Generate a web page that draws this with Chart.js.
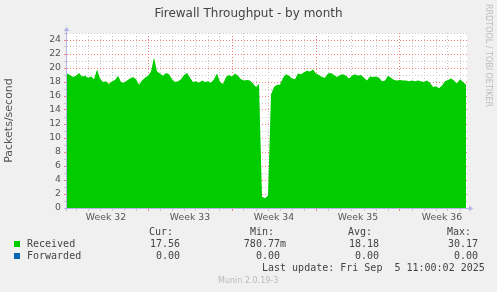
<!DOCTYPE html>
<html>
<head>
<meta charset="utf-8">
<script src="https://cdn.jsdelivr.net/npm/chart.js@4/dist/chart.umd.min.js"></script>
<style>
  html, body { margin: 0; padding: 0; background: #F0F0F0; }
  #wrap { position: relative; width: 497px; height: 292px; overflow: hidden; background: #F0F0F0; }
  canvas { position: absolute; left: 0; top: 0; }
  .t { position: absolute; white-space: pre; color: #444; }
  .mono { font-family: "DejaVu Sans Mono", monospace; font-size: 10px; line-height: 12px; }
  .title { font-family: "DejaVu Sans", sans-serif; font-size: 12px; color: #444; left: 0; width: 497px; text-align: center; top: 6px; }
  .sw { position: absolute; width: 6px; height: 6px; }
  .rrd { font-family: "DejaVu Sans", sans-serif; font-size: 8px; color: #bdbdbd; transform-origin: 0 0; transform: rotate(90deg); left: 493px; top: 4px; }
  .munin { font-family: "DejaVu Sans", sans-serif; font-size: 8px; color: #bbb; left: 218px; top: 276px; }
  .r { text-align: right; }
</style>
</head>
<body>
<div id="wrap">
  <canvas id="c" width="497" height="292"></canvas>
  <div class="t title">Firewall Throughput - by month</div>
  <div class="t rrd">RRDTOOL / TOBI OETIKER</div>

  <div class="t mono" style="left:149px; top:226px;">Cur:</div>
  <div class="t mono" style="left:250px; top:226px;">Min:</div>
  <div class="t mono" style="left:348px; top:226px;">Avg:</div>
  <div class="t mono" style="left:447px; top:226px;">Max:</div>

  <div class="sw" style="left:14px; top:241px; background:#00CC00;"></div>
  <div class="t mono" style="left:27px; top:238px;">Received</div>
  <div class="t mono r" style="left:100px; width:80px; top:238px;">17.56</div>
  <div class="t mono r" style="left:200px; width:86px; top:238px;">780.77m</div>
  <div class="t mono r" style="left:300px; width:79px; top:238px;">18.18</div>
  <div class="t mono r" style="left:400px; width:78px; top:238px;">30.17</div>

  <div class="sw" style="left:14px; top:253px; background:#0066B3;"></div>
  <div class="t mono" style="left:27px; top:250px;">Forwarded</div>
  <div class="t mono r" style="left:100px; width:80px; top:250px;">0.00</div>
  <div class="t mono r" style="left:200px; width:80px; top:250px;">0.00</div>
  <div class="t mono r" style="left:300px; width:79px; top:250px;">0.00</div>
  <div class="t mono r" style="left:400px; width:78px; top:250px;">0.00</div>

  <div class="t mono" style="left:262px; top:262px;">Last update: Fri Sep  5 11:00:02 2025</div>
  <div class="t munin">Munin 2.0.19-3</div>
</div>
<script>
// ---- data (one sample every 6 hours, days counted from the left edge of the graph) ----
const sampleDays = 0.25;
const received = [
  19.2, 19.0, 18.7, 18.9, 19.3, 18.8, 18.9, 18.6, 18.8, 18.4,
  19.8, 18.5, 18.0, 18.1, 17.7, 18.1, 18.3, 18.9, 18.0, 17.9,
  18.2, 18.5, 18.7, 18.4, 17.6, 18.2, 18.6, 18.9, 19.5, 21.5,
  19.5, 19.2, 18.9, 19.3, 19.1, 18.4, 18.0, 18.1, 18.4, 19.0,
  19.3, 18.6, 18.0, 18.1, 17.9, 18.2, 18.0, 18.1, 17.9, 18.4,
  19.2, 18.0, 17.7, 18.7, 19.0, 18.8, 19.2, 18.9, 18.4, 18.2,
  18.3, 18.2, 17.8, 17.3, 17.7, 1.6, 1.4, 1.8, 16.2, 17.3,
  17.6, 17.6, 18.6, 19.1, 18.9, 18.5, 18.4, 19.2, 19.1, 19.4,
  19.6, 19.5, 19.8, 19.2, 19.0, 18.7, 18.6, 19.2, 19.3, 19.0,
  18.7, 19.0, 19.1, 18.9, 18.5, 18.9, 19.1, 18.9, 19.0, 18.6,
  18.2, 18.8, 18.7, 18.8, 18.6, 18.1, 18.2, 18.9, 18.6, 18.3,
  18.2, 18.3, 18.2, 18.2, 18.1, 18.2, 18.1, 18.2, 18.1, 18.0,
  18.2, 17.9, 17.3, 17.4, 17.1, 17.5, 18.1, 18.3, 18.5, 18.2,
  17.8, 18.4, 18.0, 17.6
];
const forwarded = [
  0, 0, 0, 0, 0, 0, 0, 0, 0, 0, 0, 0, 0, 0, 0, 0, 0, 0, 0, 0,
  0, 0, 0, 0, 0, 0, 0, 0, 0, 0, 0, 0, 0, 0, 0, 0, 0, 0, 0, 0,
  0, 0, 0, 0, 0, 0, 0, 0, 0, 0, 0, 0, 0, 0, 0, 0, 0, 0, 0, 0,
  0, 0, 0, 0, 0, 0, 0, 0, 0, 0, 0, 0, 0, 0, 0, 0, 0, 0, 0, 0,
  0, 0, 0, 0, 0, 0, 0, 0, 0, 0, 0, 0, 0, 0, 0, 0, 0, 0, 0, 0,
  0, 0, 0, 0, 0, 0, 0, 0, 0, 0, 0, 0, 0, 0, 0, 0, 0, 0, 0, 0,
  0, 0, 0, 0, 0, 0, 0, 0, 0, 0, 0, 0, 0, 0
];
const weekLabels = ["Week 32", "Week 33", "Week 34", "Week 35", "Week 36"];
const weekStarts = [6.75, 13.75, 20.75, 27.75];       // week boundaries (days)
const weekCenters = [3.25, 10.25, 17.25, 24.25, 31.25];
const spanDays = 400 / 12;
const yMax = 25;

const toPts = arr => arr.map((v, i) => ({ x: i * sampleDays, y: v }));

const GRID_MINOR = '#c8c8c8';
const GRID_MAJOR = '#f08080';
const AXIS = '#b4b4e6';

function isDayLine(v) { const f = v - Math.floor(v); return Math.abs(f - 0.75) < 1e-6; }
function isWeekLine(v) { return weekStarts.some(w => Math.abs(w - v) < 1e-6); }

const axisPlugin = {
  id: 'axisArrows',
  afterDraw(chart) {
    const { ctx, chartArea: a } = chart;
    ctx.save();
    ctx.strokeStyle = AXIS; ctx.fillStyle = AXIS; ctx.lineWidth = 1;
    const yb = a.bottom + 0.5;
    ctx.beginPath(); ctx.moveTo(a.left - 3, yb); ctx.lineTo(a.right + 3, yb); ctx.stroke();
    ctx.beginPath(); ctx.moveTo(a.right + 6, yb); ctx.lineTo(a.right + 2, yb - 3); ctx.lineTo(a.right + 2, yb + 3); ctx.closePath(); ctx.fill();
    const xl = a.left - 0.5;
    ctx.beginPath(); ctx.moveTo(xl, a.bottom + 3); ctx.lineTo(xl, a.top - 2); ctx.stroke();
    ctx.beginPath(); ctx.moveTo(xl, a.top - 6); ctx.lineTo(xl - 3, a.top - 2); ctx.lineTo(xl + 3, a.top - 2); ctx.closePath(); ctx.fill();
    ctx.restore();
  }
};

const bgPlugin = {
  id: 'plotBg',
  beforeDraw(chart) {
    const { ctx, chartArea: a } = chart;
    ctx.save(); ctx.fillStyle = '#ffffff';
    ctx.fillRect(a.left, a.top, a.right - a.left, a.bottom - a.top);
    ctx.restore();
  }
};

new Chart(document.getElementById('c'), {
  type: 'line',
  data: {
    datasets: [
      { label: 'Received', data: toPts(received), borderWidth: 0, backgroundColor: '#00CC00',
        fill: 'origin', pointRadius: 0, tension: 0 },
      { label: 'Forwarded', data: toPts(forwarded), borderWidth: 0, backgroundColor: '#0066B3',
        fill: 'origin', pointRadius: 0, tension: 0 }
    ]
  },
  options: {
    responsive: false, animation: false, devicePixelRatio: 1,
    layout: { padding: { left: 0, right: 30, top: 33, bottom: 62 } },
    plugins: { legend: { display: false }, tooltip: { enabled: false }, title: { display: false } },
    scales: {
      x: {
        type: 'linear', min: 0, max: spanDays,
        afterFit(s) { s.height = 22; },
        afterBuildTicks(s) {
          const t = [];
          for (let d = 0.25; d < spanDays; d += 0.5) t.push({ value: d });
          s.ticks = t;
        },
        border: { display: false, dash: [1, 2] },
        grid: {
          drawTicks: true, tickLength: 3,
          color: c => { const v = c.tick ? c.tick.value : 0; return isDayLine(v) ? (isWeekLine(v) ? GRID_MAJOR : GRID_MINOR) : 'rgba(0,0,0,0)'; },
          tickColor: c => { const v = c.tick ? c.tick.value : 0; return isDayLine(v) ? (isWeekLine(v) ? '#f08080' : '#c8c8c8') : 'rgba(0,0,0,0)'; }
        },
        ticks: {
          autoSkip: false, maxRotation: 0, padding: 1, color: '#555',
          font: { family: 'DejaVu Sans', size: 9.3 },
          callback: v => { const k = weekCenters.findIndex(w => Math.abs(w - v) < 1e-6); return k >= 0 ? weekLabels[k] : ''; }
        }
      },
      y: {
        min: 0, max: yMax,
        afterFit(s) { s.width = 67; },
        border: { display: false, dash: [1, 2] },
        grid: {
          tickLength: 3,
          color: c => (c.tick && c.tick.value % 2 === 0) ? GRID_MAJOR : GRID_MINOR,
          tickColor: c => (c.tick && c.tick.value % 2 === 0) ? '#f08080' : '#c8c8c8'
        },
        ticks: {
          stepSize: 1, autoSkip: false, padding: 3, color: '#555',
          font: { family: 'DejaVu Sans', size: 9.3 },
          callback: v => (v % 2 === 0 ? String(v) : '')
        },
        title: { display: true, text: 'Packets/second', color: '#555',
          font: { family: 'DejaVu Sans', size: 11 }, padding: { top: 3, bottom: 0 } }
      }
    }
  },
  plugins: [bgPlugin, axisPlugin]
});
</script>
</body>
</html>
